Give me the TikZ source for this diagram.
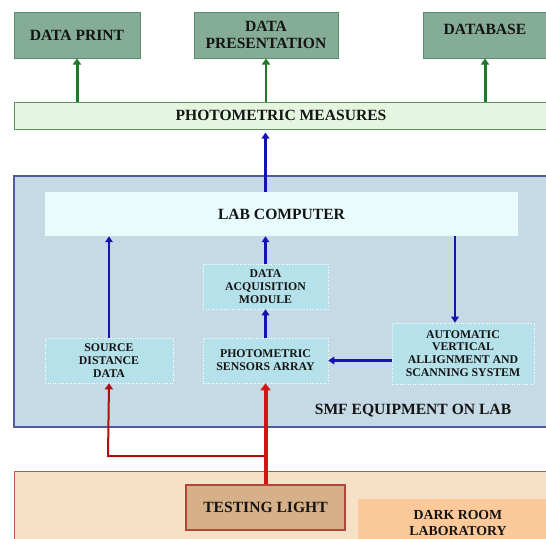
\documentclass[tikz,border=0pt]{standalone}
\usepackage{fontspec}
\setmainfont{Liberation Serif}
\usetikzlibrary{arrows.meta}

\definecolor{topfill}{HTML}{84AC96}
\definecolor{topline}{HTML}{5B8C6D}
\definecolor{garrowc}{HTML}{1C7A28}
\definecolor{pmfill}{HTML}{E4F6E0}
\definecolor{pmline}{HTML}{5E9160}
\definecolor{smffill}{HTML}{C6DAE6}
\definecolor{smfline}{HTML}{4E5C9C}
\definecolor{labfill}{HTML}{E8FBFD}
\definecolor{innerfill}{HTML}{B5E2EA}
\definecolor{barrowc}{HTML}{1414B4}
\definecolor{lowfill}{HTML}{F6E1C6}
\definecolor{lowline}{HTML}{B85A4E}
\definecolor{tlfill}{HTML}{D6B088}
\definecolor{tlline}{HTML}{B0483A}
\definecolor{drfill}{HTML}{FCC99A}
\definecolor{rarrowc}{HTML}{D41414}
\definecolor{inkc}{HTML}{141414}

\tikzset{
  bigtext/.style={font=\fontsize{15.6}{17.5}\selectfont\bfseries, text=inkc},
  smalltext/.style={font=\fontsize{11.8}{12.8}\selectfont\bfseries, text=inkc},
  box/.style={rectangle, inner sep=0pt, align=center},
  topbox/.style={box, bigtext, fill=topfill, draw=topline, line width=1pt,
    minimum height=46pt},
  innerbox/.style={box, smalltext, fill=innerfill, draw=white, dotted,
    line width=0.6pt, minimum height=45pt},
  garrow/.style={draw=garrowc, line width=3pt,
    -{Triangle[length=6pt,width=8pt]}},
  barrow/.style={draw=barrowc, line width=2.4pt,
    -{Triangle[length=6pt,width=7.5pt]}},
  rthin/.style={draw=rarrowc!80!black, line width=2pt,
    -{Triangle[length=6pt,width=8pt]}},
  rthick/.style={draw=rarrowc, line width=4pt,
    -{Triangle[length=7pt,width=10pt]}},
}

\begin{document}
\begin{tikzpicture}[x=1pt, y=-1pt]
\useasboundingbox (0,0) rectangle (546,538);

% output devices
\node[topbox, minimum width=126pt] (dp) at (77,35) {DATA PRINT};
\node[topbox, minimum width=144pt] (dpres) at (266,35) {DATA\\PRESENTATION};
\node[topbox, minimum width=125pt] (db) at (485.5,35) {};
\node[bigtext] (dbtext) at (485,29) {DATABASE};

% measures bar
\node[box, bigtext, fill=pmfill, draw=pmline, line width=1pt,
  minimum width=534pt, minimum height=27pt] (pm) at (281,115.5)
  {PHOTOMETRIC MEASURES};

% SMF equipment frame
\node[box, fill=smffill, draw=smfline, line width=1.2pt,
  minimum width=534pt, minimum height=251pt] (smf) at (281,301.5) {};
\node[bigtext] (smftext) at (413,411) {SMF EQUIPMENT ON LAB};

\node[box, bigtext, fill=labfill, minimum width=473pt, minimum height=44pt]
  (lab) at (281.5,214) {LAB COMPUTER};

\node[innerbox, minimum width=125pt] (daq) at (265.5,286.5)
  {DATA\\ACQUISITION\\MODULE};
\node[innerbox, minimum width=128pt] (src) at (109,360.5)
  {SOURCE\\DISTANCE\\DATA};
\node[innerbox, minimum width=125pt] (sens) at (265.5,360.5)
  {PHOTOMETRIC\\SENSORS ARRAY};
\node[innerbox, minimum width=142pt, minimum height=61pt] (auto) at (463,353.5)
  {AUTOMATIC\\VERTICAL\\ALLIGNMENT AND\\SCANNING SYSTEM};

% dark room
\node[box, fill=lowfill, draw=lowline, line width=1pt,
  minimum width=534pt, minimum height=89pt] (low) at (281,515.5) {};
\node[box, bigtext, fill=tlfill, draw=tlline, line width=1.2pt,
  minimum width=159pt, minimum height=45pt] (tl) at (265.5,507.5)
  {TESTING LIGHT};
\node[box, fill=drfill, minimum width=190pt, minimum height=70pt,
  anchor=north west] (drbox) at (358,499) {};
\node[bigtext, font=\fontsize{13.8}{16}\selectfont\bfseries, align=center]
  (drtext) at (458,523) {DARK ROOM\\LABORATORY};

% connectors
\draw[garrow] (pm.north -| dp.south) -- (dp.south);
\draw[garrow, line width=2pt] (pm.north -| dpres.south) -- (dpres.south);
\draw[garrow] (pm.north -| dbtext.south) -- (db.south -| dbtext.south);

\draw[barrow] (lab.north -| daq.north) -- ([yshift=-3pt]pm.south -| daq.north);
\draw[barrow] (src.north) -- (lab.south -| src.north);
\draw[barrow] (daq.north) -- (lab.south -| daq.north);
\coordinate (autotop) at ([xshift=-8pt]auto.north);
\draw[barrow] (lab.south -| autotop) -- (autotop);
\draw[barrow] (sens.north) -- (daq.south);
\draw[barrow] (auto.west |- sens.east) -- (sens.east);

\coordinate (redcorner) at (108,456);
\draw[rthin] (tl.north |- redcorner) -- (redcorner) -- (src.south);
\draw[rthick] (tl.north) -- (sens.south);
\end{tikzpicture}
\end{document}
